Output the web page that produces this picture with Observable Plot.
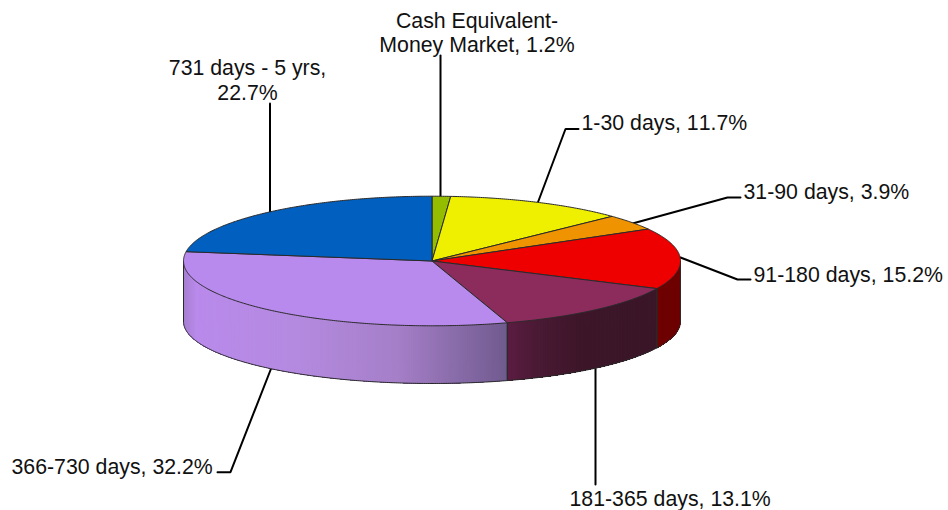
<!DOCTYPE html>
<html>
<head>
<meta charset="utf-8">
<script src="https://cdn.jsdelivr.net/npm/d3@7"></script>
<script src="https://cdn.jsdelivr.net/npm/@observablehq/plot@0.6"></script>
<style>
html,body{margin:0;padding:0;background:#fff}
svg{display:block}
</style>
</head>
<body>
<div id="chart"></div>
<script>
// Data
const categories = ["Cash Equivalent-Money Market","1-30 days","31-90 days","91-180 days","181-365 days","366-730 days","731 days - 5 yrs"];
const shares = [1.2, 11.7, 3.9, 15.2, 13.1, 32.2, 22.7];
const labelTexts = ["Cash Equivalent-\nMoney Market, 1.2%","731 days - 5 yrs,\n22.7%","1-30 days, 11.7%","31-90 days, 3.9%","91-180 days, 15.2%","181-365 days, 13.1%","366-730 days, 32.2%"];

// Styles
const topColors = ["#94bd00","#efef00","#ef9300","#ef0000","#8b2c5d","#b98aed","#005fbf"];
const sideStops = {
  3: {t:[0,1], c:["#6e0000","#6e0000"]},
  4: {t:[0,0.2,0.5,1], c:["#5c1c42","#4a1a34","#3d1629","#3a1628"]},
  5: {t:[0,0.04,0.35,0.66,0.96,1], c:["#a57fd0","#b98aeb","#b48ae0","#a57fc8","#775f96","#6f5b8e"]}
};

// Geometry of the tilted pie, in chart units
const cx = 431.5, cy = 260.5, rx = 248.5, ry = 64.8, lowCy = 321, lowRy = 62;
const rad = d => d * Math.PI / 180;
const topPt = a => ({x: cx + rx * Math.sin(rad(a)), y: cy - ry * Math.cos(rad(a))});
const lowPt = a => ({x: cx + rx * Math.sin(rad(a)), y: lowCy - lowRy * Math.cos(rad(a))});
const range = (a, b, n) => d3.range(n + 1).map(i => a + (b - a) * i / n);

// Slice angles from the shares (clockwise from 12 o'clock)
const total = d3.sum(shares);
let cum = 0;
const slices = shares.map((s, i) => {
  const a0 = cum / total * 360; cum += s;
  return {i, name: categories[i], a0, a1: cum / total * 360, color: topColors[i]};
});

// Top faces
const topFaces = slices.flatMap(s => {
  const n = Math.max(6, Math.ceil((s.a1 - s.a0) * 2));
  const pts = [{x: cx, y: cy}, ...range(s.a0, s.a1, n).map(topPt), {x: cx, y: cy}];
  return pts.map(p => ({...p, key: s.name, color: s.color}));
});

// Side wall strips with a horizontal shading; each strip runs to the wall's end, later ones paint over it
const strips = [];
const sideEdges = [];
slices.forEach(s => {
  const a0 = Math.max(s.a0, 90), a1 = Math.min(s.a1, 270);
  if (a1 <= a0) return;
  const n = Math.ceil((a1 - a0) * 2);
  const xs = [topPt(a0).x, topPt(a1).x];
  const xMin = d3.min(xs), xMax = d3.max(xs);
  const st = sideStops[s.i];
  const shade = d3.scaleLinear().domain(st.t).range(st.c).interpolate(d3.interpolateRgb);
  const as = range(a0, a1, n);
  d3.pairs(as).forEach(([u, v], j) => {
    const k = `${s.i}-${String(j).padStart(4, "0")}`;
    const color = d3.rgb(shade((topPt((u + v) / 2).x - xMin) / (xMax - xMin))).formatHex();
    const arc = range(u, a1, Math.max(2, Math.ceil((a1 - u) * 2)));
    const pts = [...arc.map(topPt), ...arc.slice().reverse().map(lowPt)];
    [...pts, pts[0]].forEach(p => strips.push({...p, key: k, color}));
  });
  [a0, a1].forEach((a, j) => sideEdges.push({...topPt(a), key: `e${s.i}${j}`}, {...lowPt(a), key: `e${s.i}${j}`}));
});
const lowerEdge = range(90, 270, 360).map(a => ({...lowPt(a), key: "low"}));

// Leader lines
const leaderX = [[440,440],[269.5,269.5],[578,565,537],[740,727,632],[750,737,680],[595,595],[217,230,271]];
const leaderY = [[55,197],[103,212],[128.5,128.5,203],[197,197,223],[279,279,257],[367,484],[471.7,471.7,367]];
const leaders = leaderX.flatMap((xs, i) => xs.map((x, j) => ({x, y: leaderY[i][j], key: i})));

// Label anchors
const labelX = [476.5, 247, 581, 743, 753, 569, 11];
const labelY = [51.5, 99, 129, 198, 281, 505, 473];
const labelAnchor = ["middle","middle","start","start","start","start","start"];
const labels = labelTexts.map((text, i) => ({text, x: labelX[i], y: labelY[i], anchor: labelAnchor[i]}));

const textMark = anchor => Plot.text(labels.filter(d => d.anchor === anchor), {
  x: "x", y: "y", text: "text", textAnchor: anchor, lineAnchor: "bottom",
  lineHeight: 1.13, fontSize: 21.3, fill: "#111"
});

const edge = "#2a2a2a";
const plot = Plot.plot({
  width: 948, height: 510,
  margin: 0,
  x: {domain: [0, 948], range: [0, 948], axis: null},
  y: {domain: [0, 510], range: [0, 510], axis: null},
  color: {type: "identity"},
  style: {fontFamily: "'Liberation Sans', Arial, sans-serif", background: "#fff", fontKerning: "none"},
  marks: [
    Plot.line(leaders, {x: "x", y: "y", z: "key", stroke: "#000", strokeWidth: 2, strokeLinejoin: "miter"}),
    Plot.line(strips, {x: "x", y: "y", z: "key", fill: "color"}),
    Plot.line(sideEdges, {x: "x", y: "y", z: "key", stroke: edge, strokeWidth: 1}),
    Plot.line(lowerEdge, {x: "x", y: "y", z: "key", stroke: edge, strokeWidth: 1}),
    Plot.line(topFaces, {x: "x", y: "y", z: "key", fill: "color", stroke: edge, strokeWidth: 1}),
    textMark("middle"),
    textMark("start")
  ]
});
document.getElementById("chart").appendChild(plot);
</script>
</body>
</html>
